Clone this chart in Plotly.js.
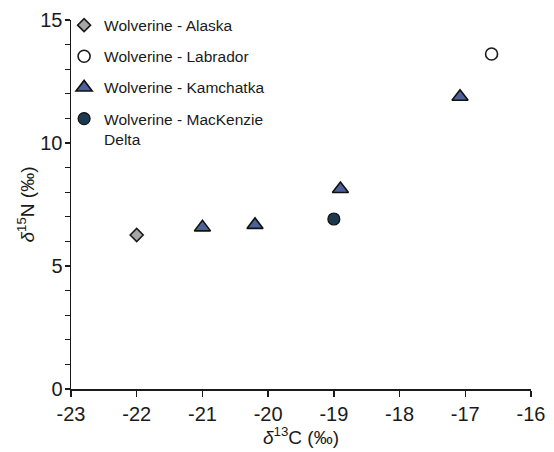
<!DOCTYPE html>
<html>
<head>
<meta charset="utf-8">
<script src="https://cdn.plot.ly/plotly-3.0.1.min.js"></script>
<style>html,body{margin:0;padding:0;background:#fff;}#chart{width:554px;height:452px;}</style>
</head>
<body>
<div id="chart"></div>
<script>
// Data
const seriesNames = ["Wolverine - Alaska", "Wolverine - Labrador", "Wolverine - Kamchatka", "Wolverine - MacKenzie<br>Delta"];
const alaskaC = [-22.0];
const alaskaN = [6.26];
const labradorC = [-16.6];
const labradorN = [13.62];
const kamchatkaC = [-21.0, -20.2, -18.9, -17.08];
const kamchatkaN = [6.57, 6.67, 8.13, 11.88];
const mackenzieC = [-19.0];
const mackenzieN = [6.91];
const xTicks = [-23, -22, -21, -20, -19, -18, -17, -16];
const yTicks = [0, 5, 10, 15];

const font = "Liberation Sans, Arial, sans-serif";
const traces = [
  {x: alaskaC, y: alaskaN, name: seriesNames[0], legendgroup: "a",
   marker: {symbol: "diamond", size: 10, color: "#a6a6a6", line: {color: "#1a1a1a", width: 1.6}}},
  {x: labradorC, y: labradorN, name: seriesNames[1], legendgroup: "b",
   marker: {symbol: "circle", size: 12, color: "#ffffff", line: {color: "#1a1a1a", width: 1.6}}},
  {x: kamchatkaC, y: kamchatkaN, name: seriesNames[2], legendgroup: "c",
   marker: {symbol: "triangle-up", size: 14, color: "#4d619a", line: {color: "#111111", width: 1.6}}},
  {x: mackenzieC, y: mackenzieN, name: seriesNames[3], legendgroup: "d",
   marker: {symbol: "circle", size: 12, color: "#1b3a52", line: {color: "#111111", width: 1.2}}}
].map(t => Object.assign({type: "scatter", mode: "markers", cliponaxis: false}, t));

const layout = {
  width: 554, height: 452,
  margin: {l: 71, r: 23, t: 20, b: 63, autoexpand: false},
  paper_bgcolor: "#ffffff", plot_bgcolor: "#ffffff",
  font: {family: font, color: "#1a1a1a", size: 16},
  showlegend: true,
  legend: {x: -0.015, y: 1.031, xanchor: "left", yanchor: "top", bgcolor: "rgba(0,0,0,0)",
           font: {family: font, size: 15.5, color: "#1a1a1a"}, traceorder: "grouped",
           tracegroupgap: 8, valign: "top", itemwidth: 30},
  xaxis: {range: [-23, -16], tickvals: xTicks, ticktext: xTicks.map(String),
          showgrid: false, zeroline: false, showline: true, linecolor: "#1a1a1a", linewidth: 1.5,
          ticks: "outside", ticklen: 6, tickwidth: 1.5, tickcolor: "#1a1a1a",
          tickfont: {family: font, size: 20}, fixedrange: true, automargin: false,
          title: {text: "<i>δ</i><sup>13</sup>C (‰)", font: {family: font, size: 19}, standoff: 5}},
  yaxis: {range: [0, 15], tickvals: yTicks, ticktext: yTicks.map(String),
          showgrid: false, zeroline: false, showline: true, linecolor: "#1a1a1a", linewidth: 1.5,
          ticks: "outside", ticklen: 5, tickwidth: 1.5, tickcolor: "#1a1a1a",
          minor: {dtick: 1, ticks: "outside", ticklen: 5, tickwidth: 1.2, tickcolor: "#1a1a1a"},
          tickfont: {family: font, size: 20}, fixedrange: true, ticklabelstandoff: -2, automargin: false,
          title: {text: "<i>δ</i><sup>15</sup>N (‰)", font: {family: font, size: 19}, standoff: 0}}
};
Plotly.newPlot("chart", traces, layout, {displayModeBar: false, staticPlot: true});
</script>
</body>
</html>
